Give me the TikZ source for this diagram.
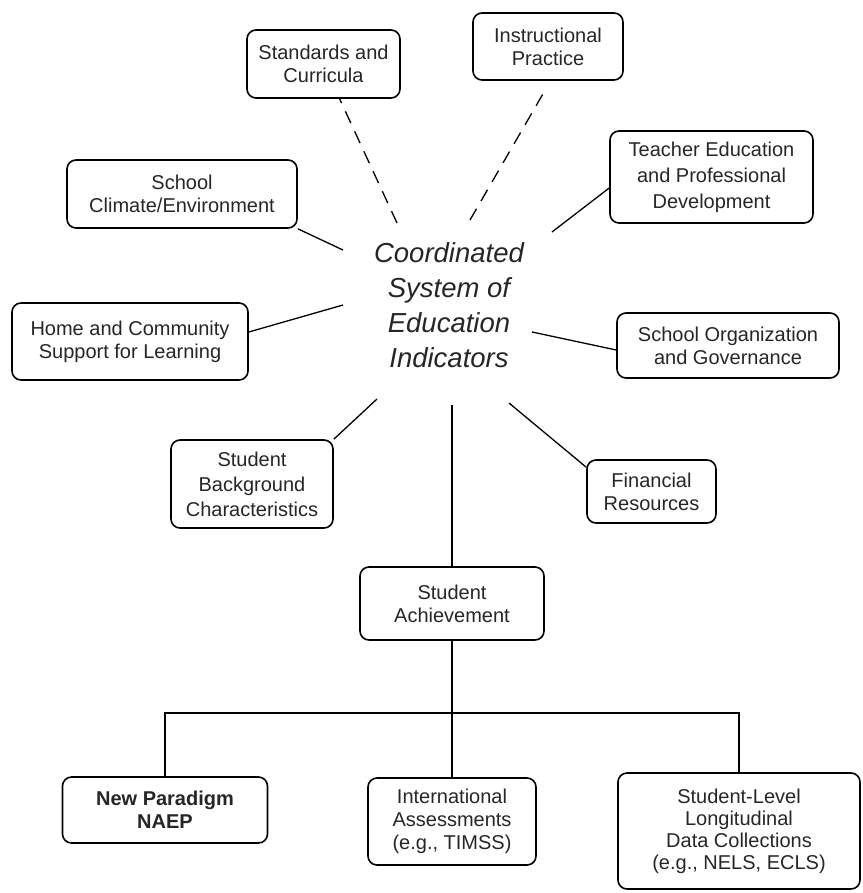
\documentclass[tikz,border=0pt]{standalone}
\usepackage{fontspec}
\setmainfont{Liberation Sans}
\usetikzlibrary{calc}

\tikzset{
  box/.style={draw=black, line width=1.6pt, rounded corners=9pt, align=center,
    inner sep=0pt, text=black!85, font=\fontsize{20}{23}\selectfont},
  hubtext/.style={align=center, inner sep=0pt, text=black!85,
    font=\itshape\fontsize{27.5}{35}\selectfont},
  link/.style={draw=black, line width=1.3pt},
  brokenlink/.style={link, dash pattern=on 13pt off 9pt},
  treeline/.style={draw=black, line width=1.3pt}
}

\begin{document}
\begin{tikzpicture}[x=1pt, y=-1pt]
\useasboundingbox (0,0) rectangle (862,893);

% central label
\node[hubtext] (hub) at (449,305.5) {Coordinated\\System of\\Education\\Indicators};

% surrounding indicator areas
\node[box, minimum width=153pt, minimum height=68pt] (std) at (323.5,64) {Standards and\\Curricula};
\node[box, minimum width=150pt, minimum height=67pt] (inst) at (548,46.5) {Instructional\\Practice};
\node[box, minimum width=230pt, minimum height=68pt] (clim) at (182,194) {School\\Climate/Environment};
\node[box, minimum width=203pt, minimum height=92pt, font=\fontsize{20}{26}\selectfont] (teach) at (711.5,177) {Teacher Education\\and Professional\\Development};
\node[box, minimum width=236pt, minimum height=77pt] (home) at (130,341.5) {Home and Community\\Support for Learning};
\node[box, minimum width=222pt, minimum height=65pt] (org) at (728,345.5) {School Organization\\and Governance};
\node[box, minimum width=162pt, minimum height=88pt, font=\fontsize{20}{25}\selectfont] (back) at (252,484) {Student\\Background\\Characteristics};
\node[box, minimum width=129pt, minimum height=63pt] (fin) at (651.5,491.5) {Financial\\Resources};

% achievement branch
\node[box, minimum width=184pt, minimum height=73pt] (ach) at (452,603.5) {Student\\Achievement};
\node[box, minimum width=205pt, minimum height=66pt, font=\bfseries\fontsize{20}{23}\selectfont] (naep) at (165,810) {New Paradigm\\NAEP};
\node[box, minimum width=168pt, minimum height=87pt] (intl) at (452,821.5) {International\\Assessments\\(e.g., TIMSS)};
\node[box, minimum width=242pt, minimum height=116pt, font=\fontsize{20}{22}\selectfont] (slc) at (739,831) {Student-Level\\Longitudinal\\Data Collections\\(e.g., NELS, ECLS)};

% ends of the spokes next to the central label
\coordinate (hStd)   at (397,223);
\coordinate (hInst)  at (470,220);
\coordinate (hClim)  at (343,250);
\coordinate (hHome)  at (343,305);
\coordinate (hTeach) at (552,232);
\coordinate (hOrg)   at (532,332);
\coordinate (hFin)   at (509,403);
\coordinate (hBack)  at (377,399);
\coordinate (hAch)   at (452,405);
\coordinate (bar)    at (452,713);

% spokes
\draw[brokenlink] (hStd) -- (std);
\draw[brokenlink] (hInst) -- ($(inst.south)+(-5,13)$);
\draw[link] (hClim) -- (clim.south east);
\draw[link] (hHome) -- ($(home.east)+(0,-9.5)$);
\draw[link] (hTeach) -- ($(teach.west)+(0,11)$);
\draw[link] (hOrg) -- ($(org.west)+(0,4.5)$);
\draw[link] (hFin) -- ($(fin.north west)+(0,8)$);
\draw[link] (hBack) -- (back.north east);
\draw[link] (hAch) -- (ach.north);

% tree below student achievement
\draw[treeline] (ach.south) -- (intl.north);
\draw[treeline] (naep.north) |- (bar) -| (slc.north);
\end{tikzpicture}
\end{document}
